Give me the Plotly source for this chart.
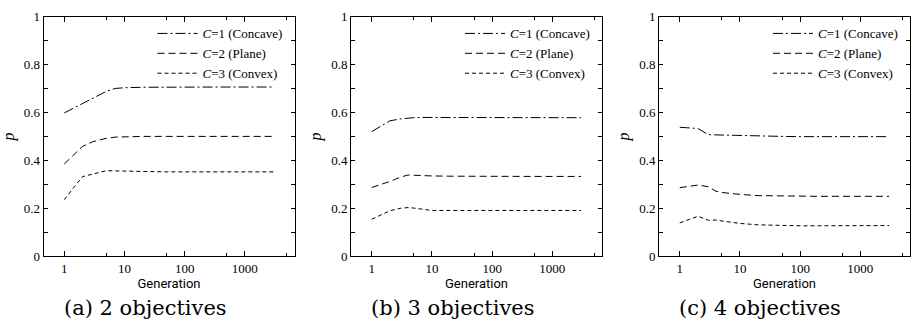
import plotly.graph_objects as go

W, H = 913, 333

generation = [1, 2, 3, 4, 5, 7, 10, 20, 50, 100, 200, 500, 1000, 2000, 3000]

# (a) 2 objectives
a_concave = [0.598, 0.636, 0.660, 0.676, 0.688, 0.700, 0.703, 0.705, 0.706, 0.706, 0.706, 0.706, 0.706, 0.706, 0.706]
a_plane   = [0.385, 0.458, 0.478, 0.487, 0.492, 0.497, 0.499, 0.500, 0.500, 0.500, 0.500, 0.500, 0.500, 0.500, 0.500]
a_convex  = [0.236, 0.332, 0.343, 0.352, 0.357, 0.356, 0.355, 0.353, 0.352, 0.352, 0.352, 0.352, 0.352, 0.352, 0.352]

# (b) 3 objectives
b_concave = [0.520, 0.565, 0.573, 0.577, 0.578, 0.579, 0.579, 0.578, 0.578, 0.578, 0.578, 0.578, 0.578, 0.578, 0.578]
b_plane   = [0.287, 0.312, 0.330, 0.339, 0.338, 0.336, 0.335, 0.334, 0.333, 0.333, 0.333, 0.333, 0.333, 0.333, 0.333]
b_convex  = [0.154, 0.190, 0.200, 0.203, 0.201, 0.195, 0.191, 0.191, 0.191, 0.191, 0.191, 0.191, 0.191, 0.191, 0.191]

# (c) 4 objectives
c_concave = [0.538, 0.533, 0.507, 0.506, 0.505, 0.504, 0.503, 0.501, 0.500, 0.499, 0.499, 0.499, 0.499, 0.499, 0.499]
c_plane   = [0.286, 0.297, 0.290, 0.271, 0.266, 0.262, 0.258, 0.253, 0.251, 0.250, 0.250, 0.250, 0.250, 0.250, 0.250]
c_convex  = [0.139, 0.167, 0.150, 0.151, 0.147, 0.142, 0.137, 0.131, 0.128, 0.127, 0.127, 0.127, 0.128, 0.128, 0.128]

series_names = ["<i>C</i>=1 (Concave)", "<i>C</i>=2 (Plane)", "<i>C</i>=3 (Convex)"]
captions = ["(a) 2 objectives", "(b) 3 objectives", "(c) 4 objectives"]
x_tick_vals = [1, 10, 100, 1000]
x_tick_text = ["1", "10", "100", "1000"]
x_minor_vals = [5, 50, 500, 5000]
y_tick_vals = [0, 0.2, 0.4, 0.6, 0.8, 1]
y_tick_text = ["0", "0.2", "0.4", "0.6", "0.8", "1"]

panels = [
    (a_concave, a_plane, a_convex),
    (b_concave, b_plane, b_convex),
    (c_concave, c_plane, c_convex),
]
dashes = ["10px,3px,2px,3px", "7px,4px", "4px,3px"]

# pixel layout of the plot boxes
box_left = [43.5, 351, 659]
box_w = 251
box_top, box_bottom = 10, 261

SERIF = "Liberation Serif"
SANS = "Roboto"

fig = go.Figure()
legend_names = ["legend", "legend2", "legend3"]

for i, data in enumerate(panels):
    xa = "x" if i == 0 else f"x{i+1}"
    ya = "y" if i == 0 else f"y{i+1}"
    for j, vals in enumerate(data):
        fig.add_trace(go.Scatter(
            x=generation, y=vals, mode="lines",
            name=series_names[j],
            line=dict(color="black", width=1, dash=dashes[j]),
            xaxis=xa, yaxis=ya, legend=legend_names[i],
            showlegend=True,
        ))

layout = dict(
    width=W, height=H,
    margin=dict(l=0, r=0, t=0, b=0),
    paper_bgcolor="white", plot_bgcolor="white",
    font=dict(family=SERIF, size=12, color="black"),
)

ydom = [(H - box_bottom) / H, (H - box_top) / H]
for i in range(3):
    xk = "xaxis" if i == 0 else f"xaxis{i+1}"
    yk = "yaxis" if i == 0 else f"yaxis{i+1}"
    ya = "y" if i == 0 else f"y{i+1}"
    xa = "x" if i == 0 else f"x{i+1}"
    l = box_left[i]
    layout[xk] = dict(
        domain=[l / W, (l + box_w) / W], anchor=ya,
        type="log", range=[-0.345, 3.825],
        tickmode="array", tickvals=x_tick_vals, ticktext=x_tick_text,
        ticks="inside", ticklen=5, tickwidth=1, tickcolor="black",
        minor=dict(tickmode="array", tickvals=x_minor_vals, ticks="inside",
                   ticklen=3, tickwidth=1, tickcolor="black"),
        showline=True, linecolor="black", linewidth=1, mirror="allticks",
        showgrid=False, zeroline=False,
        tickfont=dict(family=SERIF, size=13, color="black"),
        title=dict(text="Generation", font=dict(family=SANS, size=13, color="black"), standoff=4),
    )
    layout[yk] = dict(
        domain=ydom, anchor=xa,
        range=[0, 1],
        tickmode="array", tickvals=y_tick_vals, ticktext=y_tick_text,
        ticks="inside", ticklen=4, tickwidth=1, tickcolor="black",
        minor=dict(dtick=0.1, ticks="inside", ticklen=4, tickwidth=1, tickcolor="black"),
        showline=True, linecolor="black", linewidth=1, mirror="allticks",
        showgrid=False, zeroline=False,
        tickfont=dict(family=SERIF, size=13, color="black"),
        title=dict(text="<i>p</i>", font=dict(family=SERIF, size=16, color="black"), standoff=5),
    )
    layout[legend_names[i]] = dict(
        x=(l + 109) / W, y=(H - 12) / H, xref="paper", yref="paper",
        xanchor="left", yanchor="top",
        bgcolor="rgba(0,0,0,0)", borderwidth=0,
        font=dict(family=SERIF, size=13, color="black"),
        tracegroupgap=0, itemwidth=40,
    )

annotations = []
for i in range(3):
    annotations.append(dict(
        text=captions[i], xref="paper", yref="paper",
        x=(box_left[i] + 18) / W, y=(H - 315) / H,
        xanchor="left", yanchor="middle", showarrow=False,
        font=dict(family="DejaVu Serif", size=21, color="black"),
    ))
layout["annotations"] = annotations

fig.update_layout(**layout)
fig.write_html("out.html", post_script="document.body.style.margin='0';",
               config={"displayModeBar": False})
